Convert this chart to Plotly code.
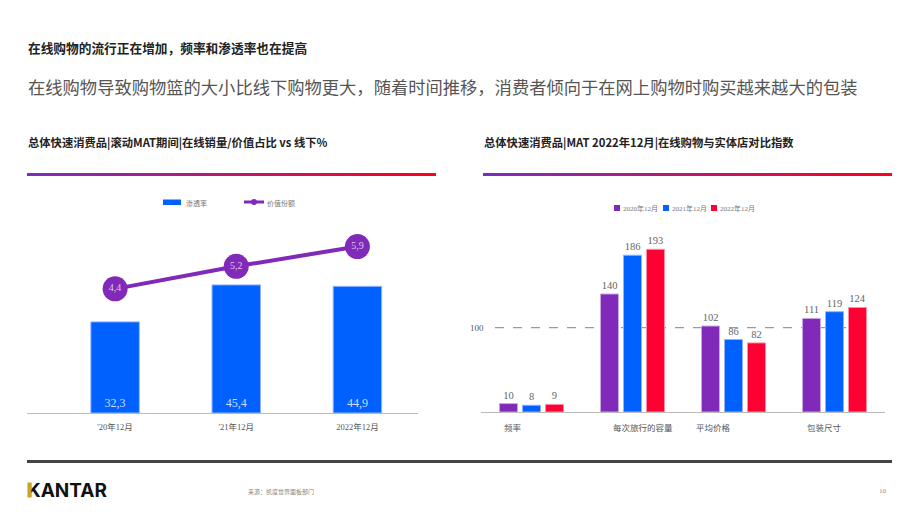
import plotly.graph_objects as go

W, H = 920, 518
def px(x): return x / W
def py(y): return 1 - y / H

# ---------------- data ----------------
left_categories = ["'20年12月", "'21年12月", "2022年12月"]
penetration = [32.3, 45.4, 44.9]          # 渗透率
value_share = [4.4, 5.2, 5.9]             # 价值份额

right_categories = ["频率", "每次旅行的容量", "平均价格", "包装尺寸"]
series_names = ["2020年12月", "2021年12月", "2022年12月"]
idx_2020 = [10, 140, 102, 111]
idx_2021 = [8, 186, 86, 119]
idx_2022 = [9, 193, 82, 124]
reference_index = 100

title_main = "在线购物的流行正在增加，频率和渗透率也在提高"
subtitle_main = "在线购物导致购物篮的大小比线下购物更大，随着时间推移，消费者倾向于在网上购物时购买越来越大的包装"
left_title = "总体快速消费品|滚动MAT期间|在线销量/价值占比 vs 线下%"
right_title = "总体快速消费品|MAT 2022年12月|在线购物与实体店对比指数"
source_text = "来源：凯度世界面板部门"
page_no = "10"

# ---------------- style ----------------
PURPLE = "#8129B8"
BLUE = "#0061FF"
RED = "#FF0032"
SANS = "Noto Sans CJK SC"
SERIF = "Liberation Serif, Noto Sans CJK SC"

def comma(v):
    return f"{v:.1f}".replace(".", ",")

fig = go.Figure()

# left chart
fig.add_trace(go.Bar(
    x=left_categories, y=penetration, name="渗透率",
    marker=dict(color=BLUE, line=dict(color="#8fb4ff", width=1)),
    width=0.4, text=[comma(v) for v in penetration],
    textposition="inside", insidetextanchor="start",
    textfont=dict(color="#cfdcff", size=12, family=SERIF),
    xaxis="x", yaxis="y", showlegend=False, cliponaxis=False))
fig.add_trace(go.Scatter(
    x=left_categories, y=value_share, name="价值份额",
    mode="lines+markers+text",
    line=dict(color=PURPLE, width=4),
    marker=dict(color=PURPLE, size=25),
    text=[comma(v) for v in value_share], textposition="middle center",
    textfont=dict(color="#dcc8f0", size=10, family=SERIF),
    xaxis="x", yaxis="y2", showlegend=False, cliponaxis=False))

# right chart
for name, vals, col, edge in zip(series_names, [idx_2020, idx_2021, idx_2022],
                                 [PURPLE, BLUE, RED], ["#c9a6e6", "#8fb4ff", "#ff8fa6"]):
    fig.add_trace(go.Bar(
        x=right_categories, y=vals, name=name,
        marker=dict(color=col, line=dict(color=edge, width=1)),
        text=[str(v) for v in vals], textposition="outside",
        textfont=dict(color="#666666", size=10.5, family=SERIF),
        xaxis="x3", yaxis="y3", showlegend=False, cliponaxis=False))

shapes = []
annotations = []

def note(text, x, y, size, color, family, xanchor="left", xref="paper", yref="paper", **kw):
    annotations.append(dict(text=text, xref=xref, yref=yref, x=x, y=y,
                            xanchor=xanchor, yanchor="middle", showarrow=False,
                            font=dict(size=size, color=color, family=family), **kw))

# gradient rules under subtitles
def gradient_line(x0, x1, y0, y1, step=4):
    c0 = (123, 44, 191)
    c1 = (255, 0, 28)
    x = x0
    while x < x1:
        t = (x - x0) / (x1 - x0)
        c = tuple(int(round(a + (b - a) * t)) for a, b in zip(c0, c1))
        xb = min(x + step + 1, x1)
        shapes.append(dict(type="rect", xref="paper", yref="paper",
                           x0=px(x), x1=px(xb), y0=py(y1), y1=py(y0),
                           fillcolor=f"rgb{c}", line=dict(width=0), layer="above"))
        x += step

gradient_line(27, 436, 173, 176)
gradient_line(483, 892, 173, 176)

# bottom dark rule
shapes.append(dict(type="rect", xref="paper", yref="paper", x0=px(27), x1=px(892),
                   y0=py(463), y1=py(460), fillcolor="#444444", line=dict(width=0)))

# reference dashed line at 100
shapes.append(dict(type="line", xref="paper", yref="y3", x0=px(495), x1=px(868),
                   y0=reference_index, y1=reference_index,
                   line=dict(color="#9a9a9a", width=1.3, dash="dash"), layer="below"))
note(str(reference_index), px(477), reference_index, 9, "#555", SERIF, xanchor="center", yref="y3")

# right category labels
label_shift = [-19, 10, -20, -10]
for i, (cat, sh) in enumerate(zip(right_categories, label_shift)):
    note(cat, i, py(427), 8.5, "#555", SANS, xanchor="center", xref="x3", xshift=sh)

# left legend (manual)
shapes.append(dict(type="rect", xref="paper", yref="paper", x0=px(163), x1=px(181),
                   y0=py(205), y1=py(199.5), fillcolor=BLUE, line=dict(width=0)))
note("渗透率", px(184), py(202.5), 7, "#777", SANS)
shapes.append(dict(type="line", xref="paper", yref="paper", x0=px(244), x1=px(264),
                   y0=py(202), y1=py(202), line=dict(color=PURPLE, width=3)))
shapes.append(dict(type="circle", xref="paper", yref="paper", x0=px(251), x1=px(257),
                   y0=py(205), y1=py(199), fillcolor=PURPLE, line=dict(width=0)))
note("价值份额", px(265), py(202.5), 7, "#777", SANS)

# right legend (manual)
for xs, name, col in zip([614, 663, 711], series_names, [PURPLE, BLUE, RED]):
    shapes.append(dict(type="rect", xref="paper", yref="paper", x0=px(xs), x1=px(xs + 6),
                       y0=py(211), y1=py(205), fillcolor=col, line=dict(width=0)))
    note(name, px(xs + 7), py(209), 7, "#777", SERIF)

# titles
note("<b>" + title_main + "</b>", px(26), py(47), 12.7, "#222", SANS)
note(subtitle_main, px(26), py(86), 17.3, "#555", SANS)
note("<b>" + left_title + "</b>", px(26), py(142), 11.3, "#222", SANS)
note("<b>" + right_title + "</b>", px(482), py(142), 11.3, "#222", SANS)
note("<b>KANTAR</b>", px(25), py(490), 19, "#111", "Inter")
note(source_text, px(246), py(491), 6, "#888", SANS)
note(page_no, px(889), py(491), 7, "#888", SERIF, xanchor="right")

# gold stem of the K (drawn over the letter)
annotations.append(dict(text=" ", xref="paper", yref="paper", x=px(27), y=py(490),
                        xanchor="left", yanchor="middle", showarrow=False,
                        width=3, height=14, bgcolor="#C9A227", borderpad=0,
                        font=dict(size=1)))

fig.update_layout(
    width=W, height=H, margin=dict(l=0, r=0, t=0, b=0),
    paper_bgcolor="white", plot_bgcolor="white",
    barmode="group", bargap=0.317, bargroupgap=0.217,
    showlegend=False,
    xaxis=dict(domain=[px(27), px(418)], range=[-0.727, 2.5], type="category",
               showline=True, linecolor="#bbbbbb", linewidth=1, showgrid=False, ticks="",
               tickfont=dict(size=8.5, color="#555", family=SERIF), ticklabelstandoff=6,
               anchor="y", fixedrange=True),
    yaxis=dict(domain=[py(413), py(200)], range=[0, 75.5], visible=False, anchor="x"),
    yaxis2=dict(domain=[py(413), py(200)], range=[0, 7.55], visible=False,
                overlaying="y", anchor="x"),
    xaxis3=dict(domain=[px(481), px(885)], range=[-0.5, 3.5], type="category",
                showline=True, linecolor="#bbbbbb", linewidth=1, showgrid=False, ticks="",
                showticklabels=False, anchor="y3"),
    yaxis3=dict(domain=[py(412), py(200)], range=[0, 251.5], visible=False, anchor="x3"),
    shapes=shapes, annotations=annotations,
)

fig.write_html("out.html")
